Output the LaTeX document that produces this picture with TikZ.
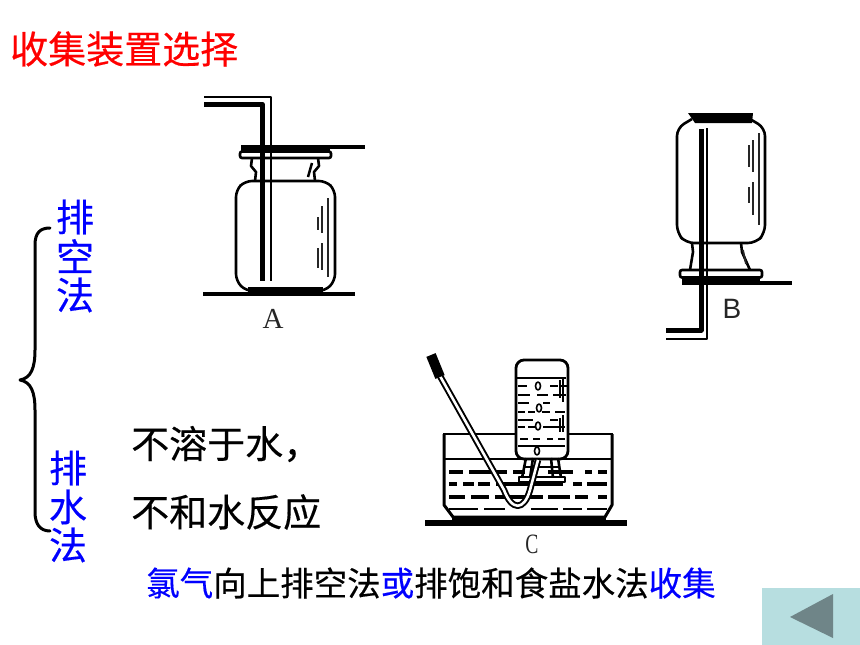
\documentclass[tikz,border=0pt]{standalone}
\usepackage{fontspec}
\usepackage{xcolor}
\setmainfont{Noto Sans CJK SC}[FakeBold=0.35]
\newfontfamily\latinfont{Liberation Serif}
\newfontfamily\labelfont{Liberation Sans}
\definecolor{btnfill}{HTML}{B7DEE0}
\definecolor{btnmark}{HTML}{6F8588}
\begin{document}
\begin{tikzpicture}[x=1pt,y=-1pt,line join=round,
  redtext/.style={text=red,inner sep=0pt,font=\fontsize{38}{38}\selectfont},
  bluetext/.style={text=blue,inner sep=0pt,font=\fontsize{38}{38}\selectfont},
  blacktext/.style={text=black,inner sep=0pt,font=\fontsize{38}{38}\selectfont},
  mixtext/.style={inner sep=0pt,font=\fontsize{33.5}{34}\selectfont},
  letter/.style={inner sep=0pt,text=black!85,font=\latinfont\fontsize{29}{29}\selectfont},
  thickline/.style={line width=3.2pt},
  thinline/.style={line width=2.6pt},
  hairline/.style={line width=1.8pt,black!85}]
  \useasboundingbox (0,0) rectangle (860,645);
  % headings and texts
  \node[redtext,anchor=west] (title) at (10,49) {收集装置选择};
  \node[bluetext] (air1) at (75,217) {排};
  \node[bluetext] (air2) at (75,256) {空};
  \node[bluetext] (air3) at (75,295) {法};
  \node[bluetext] (water1) at (68,468) {排};
  \node[bluetext] (water2) at (68,507) {水};
  \node[bluetext] (water3) at (68,545) {法};
  \node[blacktext,anchor=west] (prop1) at (131,444) {不溶于水，};
  \node[blacktext,anchor=west] (prop2) at (131,512) {不和水反应};
  \node[mixtext,anchor=west] (note) at (146,583) {\textcolor{blue}{氯气}向上排空法\textcolor{blue}{或}排饱和食盐水法\textcolor{blue}{收集}};
  % brace
  \draw[line width=3pt,line cap=round] (50,228) .. controls (40,228) and (35,233) .. (35,245)
    -- (35,350) .. controls (35,368) and (31,378) .. (20,380)
    .. controls (31,382) and (35,392) .. (35,410) -- (35,512)
    .. controls (35,524) and (40,531) .. (50,531);
  % bottle A
  \draw[thinline,rounded corners=7pt] (245,181) -- (236,190) -- (236,281) -- (246,291) -- (325,291) -- (335,281) -- (335,190) -- (326,181) -- cycle;
  \draw[thinline] (252,158) -- (251,166) -- (256,172) -- (255,181);
  \draw[thinline] (318,158) -- (319,166) -- (314,172) -- (315,181);
  \draw[thinline,rounded corners=2pt,fill=white] (240,151.5) rectangle (331,158);
  \fill (241,145) rectangle (330,152);
  \fill (248,287) rectangle (323,294);
  \draw[thickline] (203,294) -- (355,294);
  \draw[thickline] (272,147) -- (365,147);
  \draw[line width=5pt] (204,104) -- (262,104) -- (262,281);
  \draw[thinline] (204,97) -- (271,97) -- (271,281);
  \foreach \xa/\ya/\yb in {328/198/277,322/206/233,322/243/270,318/217/230,318/248/268}
    \draw[hairline] (\xa,\ya) -- (\xa,\yb);
  \draw[line width=2.5pt] (312,163) -- (308,177);
  \node[letter] (labelA) at (273,319) {A};
  % bottle B
  \draw[thinline,rounded corners=8pt] (692,119) -- (677,128) -- (677,233) -- (686,243) -- (756,243) -- (765,233) -- (765,128) -- (750,119);
  \fill (688,113) -- (753,113) -- (752,123) -- (695,123) -- cycle;
  \draw[thinline] (692,243) -- (693,252) -- (690,270);
  \draw[thinline] (741,243) -- (742,252) -- (750,270);
  \draw[thinline,rounded corners=2pt,fill=white] (680,270) rectangle (762,277.5);
  \fill (682,278) rectangle (760,285);
  \draw[thickline] (760,283) -- (792,283);
  \draw[line width=5pt] (701,129) -- (701,330) -- (666,330);
  \draw[thinline] (707,128) -- (707,339) -- (666,339);
  \foreach \xa/\ya/\yb in {759/133/225,753/140/172,753/182/215,749/145/167,749/187/203}
    \draw[hairline] (\xa,\ya) -- (\xa,\yb);
  \draw[hairline] (743,250) -- (746,264);
  \node[letter,font=\labelfont\fontsize{28}{28}\selectfont] (labelB) at (732,309) {B};
  % bottle C
  \draw[line width=5.5pt] (425,523) -- (627,523);
  \fill (452,517) rectangle (606,523);
  \draw[thinline] (443,434) -- (613,434);
  \draw[line width=3pt] (444,434) -- (444,505) -- (453,517) -- (605,517) -- (612,505) -- (612,434);
  \draw[line width=1.5pt] (445,459) -- (612,459);
  \foreach \xa/\xb/\yy in {449/463/472,469/507/472,513/525/472,548/573/472,585/592/472,598/607/472,
    449/457/484,463/474/484,478/490/484,496/563/484,573/582/484,587/607/484,
    449/465/497,471/489/497,495/543/497,548/570/497,575/588/497,598/607/497}
    \draw[thickline] (\xa,\yy) -- (\xb,\yy);
  \foreach \xa/\xb in {449/478,484/505,531/558,563/582,587/607}
    \draw[thinline] (\xa,509) -- (\xb,509);
  \fill[white,rounded corners=8pt] (515,360) rectangle (568,458);
  \draw[line width=2.8pt,rounded corners=8pt] (516,459) -- (516,360) -- (568,360) -- (568,459) -- cycle;
  \draw[line width=1.5pt] (517,378) -- (566,378);
  \draw[line width=1.5pt] (518,446) -- (565,446);
  \foreach \xa/\xb/\yy/\wd in {518/527/386/2.6,550/558/386/2.6,561/567/386/2.6,
    518/530/395/1.6,537/548/395/1.6,553/566/395/1.6,
    518/529/403/1.6,543/550/403/1.6,
    518/525/412/1.6,528/535/412/1.6,542/550/412/1.6,555/565/412/1.6,
    518/533/420/2.6,550/558/420/2.6,
    518/525/427/1.6,528/535/427/1.6,543/565/427/1.6,
    520/528/439/1.6,533/540/439/1.6,547/553/439/1.6,558/565/439/1.6}
    \draw[line width=\wd pt] (\xa,\yy) -- (\xb,\yy);
  \foreach \xa/\ya/\yb in {563/377/402,563/415/432,560/380/398,560/418/432}
    \draw[line width=1.5pt] (\xa,\ya) -- (\xa,\yb);
  \foreach \xa/\yy in {538/386,539/408,538/426,537/451}
    \draw[line width=1.6pt,fill=white] (\xa,\yy) ellipse (2.5 and 4);
  % neck, collar and delivery tube
  \foreach \xa/\xb in {526/522,533/530,551/553,558/561}
    \draw[thinline] (\xa,458) -- (\xb,478);
  \draw[line width=1.5pt] (524,467) -- (559,467);
  \draw[line width=1.8pt,fill=white] (519,477) rectangle (565,482);
  \draw[line width=6.5pt] (440,376) -- (504,490) .. controls (512,511) and (524,511) .. (530,490) -- (538,460);
  \draw[line width=2.6pt,white] (440,376) -- (504,490) .. controls (512,511) and (524,511) .. (530,490) -- (538,460);
  \draw[line width=10pt] (431,355) -- (440,377);
  \node[letter,xscale=.7,font=\latinfont\fontsize{28}{28}\selectfont] (labelC) at (532,544) {C};
  % back button
  \fill[btnfill] (762,588) rectangle (860,645);
  \fill[btnmark] (790,617) -- (833,594) -- (833,638) -- cycle;
\end{tikzpicture}
\end{document}
